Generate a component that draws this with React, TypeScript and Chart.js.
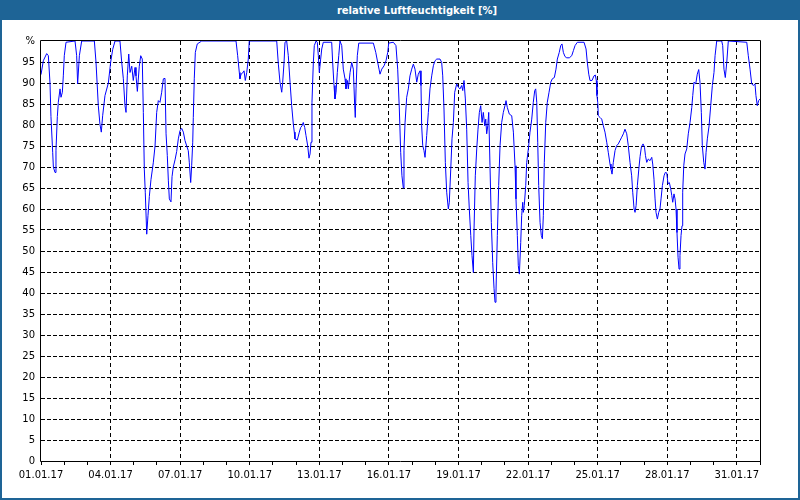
import React, { useEffect, useRef } from "react";
import { Chart, registerables } from "chart.js";

Chart.register(...registerables);

const TITLE = "relative Luftfeuchtigkeit [%]";

// tick labels every 3 days (every 72 hours)
const tickLabels = [
  "01.01.17", "04.01.17", "07.01.17", "10.01.17", "13.01.17", "16.01.17",
  "19.01.17", "22.01.17", "25.01.17", "28.01.17", "31.01.17",
];

// hours since 01.01.17 00:00
const hours = [
  0, 2.4, 5.9, 7.6, 9.3, 10.3, 12.1, 12.8, 14.5, 15.5, 16.9, 17.9, 19.7, 20.7, 22.1, 23.1, 24.1, 25.9,
  35.2, 36.9, 37.9, 39.7, 42.1, 55.2, 56.9, 59.3, 61, 62.4, 63.8, 66.2, 69.7, 72.1, 74.2, 76.6,
  81.7, 83.5, 85.2, 86.9, 88, 89.3, 90.8, 92.1, 93.9, 95.5, 97.3, 98.3, 99.7, 101.7, 103.2, 104.8,
  105.9, 106.9, 107.9, 109.4, 110.7, 112.1, 113.8, 116.2, 118, 119.7, 121.4, 123.1, 124.9, 126.6,
  128.3, 129.4, 130.7, 131.8, 132.8, 134.5, 135.6, 136.9, 138.7, 140.4, 142.1, 143.8, 145.6, 147.3,
  149, 150.8, 152.4, 153.5, 154.9, 155.9, 157, 157.6, 158.6, 159.7, 161.7, 166.3, 201.8, 203.5,
  205.2, 205.9, 207, 208.7, 210.1, 211.4, 212.9, 214.5, 215.5, 243.9, 245.6, 247.3, 249.1, 250.1,
  251.5, 252.5, 254.2, 255.9, 257.7, 259.4, 261.1, 262.1, 262.8, 265.2, 267.3, 268.7, 270.1, 271.4,
  272.9, 274.2, 276, 277.3, 278.4, 279.4, 280.4, 281.8, 282.8, 284.6, 285.9, 287, 288, 289.4, 290.5,
  292.1, 300.8, 301.8, 303.2, 304.2, 305.3, 306.6, 308.1, 309.4, 311.2, 312.8, 314.6, 315.6, 317,
  318, 319.8, 321.5, 323.2, 324.6, 325.2, 326, 327.3, 328.8, 343.9, 346.4, 348.4, 349.8, 350.8,
  352.6, 355, 357, 358.8, 359.8, 364.6, 367.3, 369.1, 370.8, 372.2, 373.5, 374.9, 375.6, 376.7,
  378.4, 380.1, 381.8, 383.6, 385.3, 387, 388.8, 390.4, 392.2, 393.2, 393.9, 395, 396.3, 397.4,
  399.1, 400.8, 402.5, 404.3, 406, 407.7, 409.5, 412.9, 414.6, 415.7, 417, 418.4, 419.8, 421.5,
  422.5, 424, 425.3, 426.7, 428.1, 430.2, 431.8, 433.6, 435.3, 436.4, 437.7, 439.1, 440.5, 441.9,
  443.2, 444.7, 446, 447.4, 448.1, 449.4, 450.9, 452.2, 453.6, 455, 456.4, 457.7, 459.2, 460.2,
  461.2, 462.3, 463.3, 464.6, 466, 467.4, 468.8, 469.8, 470.8, 472.2, 473.6, 475, 476.7, 478.4,
  480.1, 481.2, 482.5, 484.6, 487.1, 488.8, 490.5, 491.5, 492.9, 493.9, 495, 496.4, 497.4, 498.5,
  499.1, 500.1, 501.6, 502.6, 504.3, 506, 507.8, 509.4, 510.9, 511.9, 513, 514, 515, 516.4, 517.7,
  518.8, 519.8, 520.8, 522.3, 523.9, 525.7, 527.5, 529.1, 531.2, 532.9, 534.3, 536.3, 537.8, 539.1,
  540.5, 542.2, 544, 546.7, 549.2, 550.9, 552.6, 555, 561.9, 564, 565.3, 566.8, 568.1, 570.2, 572.2,
  573.6, 574.6, 575.3, 576.1, 576.7, 578.5, 580.2, 581.9, 583.6, 585.4, 587, 588.8, 589.8, 590.9,
  592.2, 594, 595.7, 597.4, 599.1, 600.9, 602.6, 604.3, 606.1, 607.7, 609.5, 611.2, 612.3, 613.7,
  614.7, 615.8, 617.1, 618.6, 619.9, 621.3, 623, 624.5, 625.5, 626.8, 628.4, 630.2, 632, 633, 634.3,
  635.4, 636.4, 637.8, 639.2, 640.5, 641.6, 643, 644.7, 646, 647.5, 648.8, 650.2, 651.6, 652.7,
  653.7, 655, 656.1, 657.1, 658.1, 659.2, 660.2, 661.2, 662.3, 663.3, 664, 665.1, 666.4, 668.2,
  669.8, 671.6, 673.4, 674.4, 675.7, 677.5, 679.1, 680.6, 681.9, 683.3, 684.3, 685.8, 687.1, 688.2,
  689.5, 691.3, 693, 694.7, 696.4, 697.5, 699.2, 704.4, 705.4, 706.7, 708.1, 709.6, 711.2, 730.3,
  731.9, 733.7, 735.4, 737.1, 738.8, 739.8, 741.2, 742.6, 744,
];

// relative humidity in %
const humidity = [
  92, 95.3, 97, 96.5, 90, 82, 73.5, 70, 68.7, 74, 82, 85.4, 88.6, 86.6, 87.8, 91.7, 96.5, 99.7,
  100, 96.5, 89.8, 96.5, 100, 100, 95, 84.6, 80.2, 78.3, 82.2, 87, 90, 95, 98, 100,
  100, 95, 91, 84.6, 83, 91.7, 96.9, 92.5, 94, 90.6, 93.7, 91.7, 88, 94, 96.5, 95.7,
  83, 69.5, 64, 54, 58.4, 63, 67, 71, 75, 83, 85.8, 85.4, 87.8, 91,
  91.1, 77.9, 72.7, 66.7, 62.4, 61.7, 67.7, 70, 71.7, 73.7, 76.7, 78.6, 79.2, 78.3,
  76.3, 75, 73.9, 71, 66.3, 70.3, 75.9, 81.8, 91, 97.3, 99.3, 100, 100, 96.5,
  92.5, 91, 92.1, 92.4, 92.9, 90.6, 92.5, 95.7, 100, 100, 94.5, 90.2, 87.8, 90.2,
  94.9, 99.7, 100, 96.5, 90.2, 84.6, 80.2, 78.3, 76.7, 76.4, 78.3, 79.4, 79.8, 80.6,
  79.4, 77.5, 75, 72.1, 73.1, 75.9, 85.4, 94.9, 98.9, 100, 99.7, 96.5, 92.5, 95.7, 98.1,
  99.7, 99.7, 94.9, 89.4, 86.2, 87.8, 92.5, 96.5, 100, 98.9, 93.3, 91, 88.6, 90.6,
  88.6, 92.5, 94.9, 93.3, 84.6, 81.8, 88.6, 96.5, 99.5, 99.5, 97.3, 94.9, 93.3, 92.1,
  93.3, 94.1, 95.3, 97.3, 99.5, 99.7, 98.9, 93.3, 83.8, 73.5, 67.9, 65, 74, 80.5,
  86.6, 88.6, 91.7, 93.3, 94.5, 93.3, 90.2, 92.1, 92.9, 89.4, 79.8, 75.1, 73.9, 72.3,
  77.5, 83, 88.6, 91.7, 94.1, 95.3, 95.7, 95.7, 94.9, 91.7, 83.8, 71.1, 64, 60,
  61.6, 69.5, 76.7, 80.6, 87.8, 89.8, 89, 88.6, 89.4, 88.2, 90.6, 86.2, 79, 66.3,
  60, 53.7, 48.9, 44.9, 55.2, 67.9, 74.3, 79, 83, 84.6, 80.6, 83, 79.8, 81.4,
  77.9, 79.8, 83, 70.3, 56.8, 47.3, 41, 37.8, 40.2, 53.7, 65.6, 75.1, 80.6, 83,
  84.6, 85.8, 84.2, 82.6, 82.2, 78.3, 70.3, 62.4, 53.7, 46.5, 44.5, 52, 58.4, 61.6,
  59.2, 60.8, 65.6, 71.1, 74.3, 78.3, 81.4, 85.4, 88.2, 88.6, 85.4, 75.9, 65.6, 56.8, 53.7,
  52.9, 58.4, 71.1, 80.6, 85.4, 87.8, 90.2, 91, 91.3, 93.3, 95.7, 97.3, 98.9, 99.3,
  97.3, 96.3, 96, 96, 96.5, 97.7, 98.9, 99.7, 99.7, 98.1, 94.9, 92.1, 90.6, 90.6, 91.7,
  91.9, 90.6, 87, 85.4, 82.2, 81.8, 81.4, 79.8, 78.3, 75.9, 73.5, 70.7, 69.5, 68.3,
  71.1, 73.9, 75.1, 75.5, 76.3, 77.1, 77.9, 79, 77.9, 75.1, 71.1, 67.9, 64, 60,
  59.2, 60.8, 65.6, 69.5, 72.5, 74.8, 75.5, 74.7, 72.7, 71.1, 71.9, 71.5, 72.3, 70.7, 67.1,
  62.4, 59.2, 57.6, 59.2, 60, 62.4, 65.6, 67.9, 68.7, 68.6, 66, 66.3, 64.8, 63.2,
  61.6, 63.6, 62.4, 60, 54.4, 48.5, 45.7, 48.9, 53.7, 56, 64, 70.3, 73.1, 74.3,
  77.9, 80.6, 84.2, 87, 90.2, 89.8, 92.1, 93.2, 90.2, 83, 75.1, 71.1, 69.5, 73.5,
  76.7, 79.8, 84.6, 89.4, 92.5, 96.5, 100, 100, 98.9, 93.3, 91.3, 94.9, 100, 99.7,
  96.5, 93.3, 89.8, 89.4, 89.8, 87, 84.6, 85.8, 86.2,
];

const FRAME_BLUE = "#1e6496";
const FONT = "'DejaVu Sans', Verdana, sans-serif";

const framePlugin = {
  id: "plotFrame",
  afterDatasetsDraw(chart: any) {
    const { ctx, chartArea } = chart;
    const l = Math.round(chartArea.left) - 0.5;
    const r = Math.round(chartArea.right) + 0.5;
    const t = Math.round(chartArea.top) - 0.5;
    const b = Math.round(chartArea.bottom) + 0.5;
    ctx.save();
    ctx.strokeStyle = "#000";
    ctx.lineWidth = 1;
    ctx.setLineDash([]);
    ctx.beginPath();
    ctx.moveTo(l, t);
    ctx.lineTo(r, t);
    ctx.lineTo(r, b);
    ctx.lineTo(l, b);
    ctx.closePath();
    ctx.stroke();
    ctx.restore();
  },
};

export default function App() {
  const canvasRef = useRef<HTMLCanvasElement | null>(null);

  useEffect(() => {
    const canvas = canvasRef.current;
    if (!canvas) return;
    const points = hours.map((h, i) => ({ x: h, y: humidity[i] }));
    const chart = new Chart(canvas, {
      type: "line",
      data: {
        datasets: [
          {
            data: points,
            borderColor: "#0000ff",
            borderWidth: 1,
            pointRadius: 0,
            tension: 0,
            fill: false,
          },
        ],
      },
      options: {
        animation: false,
        responsive: false,
        devicePixelRatio: 1,
        parsing: false,
        layout: { padding: { left: 0, top: 41, right: 40, bottom: 0 } },
        plugins: {
          legend: { display: false },
          title: { display: false },
          tooltip: { enabled: false },
        },
        scales: {
          x: {
            type: "linear",
            min: 0,
            max: 744,
            afterFit: (scale: any) => {
              scale.height = 39;
            },
            border: { display: false, dash: [4, 3] },
            grid: {
              drawTicks: true,
              tickLength: 4,
              tickColor: "#000",
              lineWidth: 1,
              color: (ctx: any) => {
                const v = ctx.tick ? ctx.tick.value : 0;
                return v > 0 && v < 744 && v % 72 === 0 ? "#000" : "rgba(0,0,0,0)";
              },
            },
            ticks: {
              stepSize: 24,
              autoSkip: false,
              maxRotation: 0,
              minRotation: 0,
              padding: 4,
              color: "#000",
              font: { family: FONT, size: 10 },
              callback: (value: any) => {
                const v = Number(value);
                if (v % 72 !== 0) return "";
                return tickLabels[v / 72] ?? "";
              },
            },
          },
          y: {
            min: 0,
            max: 100,
            afterFit: (scale: any) => {
              scale.width = 41;
            },
            border: { display: false, dash: [4, 2] },
            grid: {
              drawTicks: false,
              lineWidth: 1,
              color: (ctx: any) => {
                const v = ctx.tick ? ctx.tick.value : 0;
                return v > 0 && v < 100 ? "#000" : "rgba(0,0,0,0)";
              },
            },
            ticks: {
              stepSize: 5,
              padding: 6,
              color: "#000",
              font: { family: FONT, size: 10 },
              callback: (value: any) => (Number(value) === 100 ? "%" : String(value)),
            },
          },
        },
      },
      plugins: [framePlugin],
    } as any);
    return () => chart.destroy();
  }, []);

  return (
    <div
      style={{
        position: "fixed",
        left: 0,
        top: 0,
        width: 800,
        height: 500,
        background: "#ffffff",
        overflow: "hidden",
      }}
    >
      <canvas
        ref={canvasRef}
        width={800}
        height={500}
        style={{ position: "absolute", left: 0, top: 0, width: 800, height: 500 }}
      />
      <div
        style={{
          position: "absolute",
          left: 0,
          top: 0,
          width: 800,
          height: 500,
          boxSizing: "border-box",
          borderLeft: `2px solid ${FRAME_BLUE}`,
          borderRight: `2px solid ${FRAME_BLUE}`,
          borderBottom: `2px solid ${FRAME_BLUE}`,
          pointerEvents: "none",
        }}
      />
      <div
        style={{
          position: "absolute",
          left: 0,
          top: 0,
          width: 800,
          height: 20,
          background: FRAME_BLUE,
          color: "#ffffff",
          fontFamily: FONT,
          fontWeight: "bold",
          fontSize: 10,
          lineHeight: "21px",
          textAlign: "center",
          paddingLeft: 34,
          boxSizing: "border-box",
          whiteSpace: "nowrap",
        }}
      >
        {TITLE}
      </div>
    </div>
  );
}
